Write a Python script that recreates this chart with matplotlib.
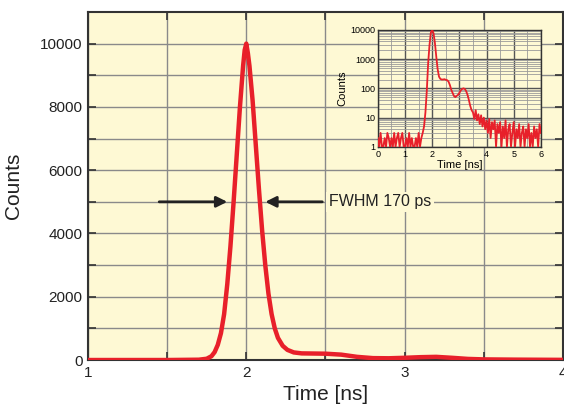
import numpy as np
from matplotlib import pyplot as plt
from matplotlib.ticker import FixedLocator, LogLocator, NullFormatter, FuncFormatter

# main trace (linear scale)
t_main = [1.0, 1.5, 1.7, 1.75, 1.78, 1.80, 1.82, 1.84, 1.86, 1.88, 1.90, 1.92, 1.94, 1.96,
          1.98, 1.99, 2.00, 2.01, 2.02, 2.04, 2.06, 2.08, 2.10, 2.12, 2.14, 2.16, 2.18,
          2.20, 2.23, 2.26, 2.30, 2.35, 2.5, 2.6, 2.7, 2.8, 2.9, 3.0, 3.1, 3.2, 3.3,
          3.4, 3.5, 3.7, 4.0]
counts_main = [0, 0, 10, 40, 120, 250, 480, 850, 1450, 2400, 3600, 5000, 6500, 8000,
               9300, 9800, 10000, 9700, 9300, 8200, 6800, 5400, 4100, 3000, 2100, 1450, 1000,
               700, 450, 320, 240, 210, 200, 170, 100, 60, 55, 70, 90, 100, 70,
               35, 20, 12, 5]

# inset trace (log scale), one bin every 0.05 ns from 0 to 6 ns
t_inset = np.linspace(0, 6, 121)
counts_inset = ([2, 1, 3, 1, 1, 2, 1, 3, 2, 1, 2, 1, 3, 1, 2, 3, 1, 2, 3, 1, 1, 2, 1, 3,
                 1, 2, 1, 1, 2, 1, 3, 1, 2]
                + [3, 5, 15, 80, 700, 3000, 8000, 10000, 7500, 3500, 1200, 450, 250, 210,
                   200, 200, 205, 195, 190, 170, 130, 90, 70, 55, 50, 55, 60, 70, 85, 95,
                   100, 95, 80, 60, 40, 25, 18]
                + [15, 9, 18, 8, 13, 6, 12, 5, 10, 4, 8]
                + [3, 9, 2, 7, 4, 8, 1, 6, 3, 7, 1, 5, 2, 8, 1, 4, 6, 1, 3, 7, 1, 4, 2, 6,
                   1, 3, 5, 1, 4, 2, 6, 1, 3, 1, 5, 2, 4, 1, 6, 3])

fwhm_left = [1.45, 1.88]
fwhm_right = [2.48, 2.12]
fwhm_level = 5000

red = '#e8202a'
cream = '#fef9d4'

plt.rcParams['font.family'] = ['Liberation Sans', 'DejaVu Sans']

fig = plt.figure(figsize=(5.64, 4.08), dpi=100)
ax = fig.add_axes([0.156, 0.1176, 0.842, 0.853])
ax.set_facecolor(cream)
ax.set_xlim(1, 4)
ax.set_ylim(0, 11000)
ax.set_xticks([1, 2, 3, 4])
ax.set_yticks(np.arange(0, 10001, 2000))
ax.xaxis.set_minor_locator(FixedLocator([1.5, 2.5, 3.5]))
ax.yaxis.set_minor_locator(FixedLocator(np.arange(1000, 11000, 2000)))
ax.grid(True, which='both', color='#8a8a8a', lw=1.0)
ax.set_axisbelow(True)
ax.tick_params(which='both', direction='in', top=True, right=True, length=6,
               width=1.2, color='#333333', labelsize=11, labelcolor='#222222', pad=4)
for s in ax.spines.values():
    s.set_color('#333333')
    s.set_linewidth(1.5)

ax.plot(t_main, counts_main, color=red, lw=3.2, zorder=3)
ax.set_xlabel('Time [ns]', fontsize=15, labelpad=4, color='#222222')
ax.set_ylabel('Counts', fontsize=15, labelpad=12, color='#222222')

arrow = dict(arrowstyle='-|>', color='#222222', lw=2, mutation_scale=16, shrinkA=0, shrinkB=0)
ax.annotate('', xy=(fwhm_left[1], fwhm_level), xytext=(fwhm_left[0], fwhm_level), arrowprops=arrow, zorder=4)
ax.annotate('', xy=(fwhm_right[1], fwhm_level), xytext=(fwhm_right[0], fwhm_level), arrowprops=arrow, zorder=4)
ax.text(2.52, fwhm_level, 'FWHM 170 ps', fontsize=11.5, va='center', ha='left', color='#222222',
        bbox=dict(facecolor=cream, edgecolor='none', pad=2), zorder=4)

# inset with log scale
ins = fig.add_axes([0.670, 0.640, 0.289, 0.287])
ins.set_facecolor(cream)
ins.set_yscale('log')
ins.set_xlim(0, 6)
ins.set_ylim(1, 10000)
ins.set_xticks(range(7))
ins.xaxis.set_minor_locator(FixedLocator(np.arange(0.5, 6, 1.0)))
ins.yaxis.set_major_locator(LogLocator(base=10, numticks=10))
ins.yaxis.set_minor_locator(LogLocator(base=10, subs=np.arange(2, 10), numticks=10))
ins.yaxis.set_major_formatter(FuncFormatter(lambda v, p: f'{v:.0f}'))
ins.yaxis.set_minor_formatter(NullFormatter())
ins.grid(True, which='major', color='#555555', lw=1.0)
ins.grid(True, which='minor', color='#9a9a9a', lw=0.6)
ins.set_axisbelow(True)
ins.tick_params(which='both', direction='in', length=0, labelsize=6.5, pad=2)
for s in ins.spines.values():
    s.set_color('#333333')
    s.set_linewidth(1.0)
ins.plot(t_inset, counts_inset, color=red, lw=1.3, zorder=3)
ins.set_xlabel('Time [ns]', fontsize=8, labelpad=1)
ins.set_ylabel('Counts', fontsize=8, labelpad=2)

plt.savefig('out.png', dpi=100)
